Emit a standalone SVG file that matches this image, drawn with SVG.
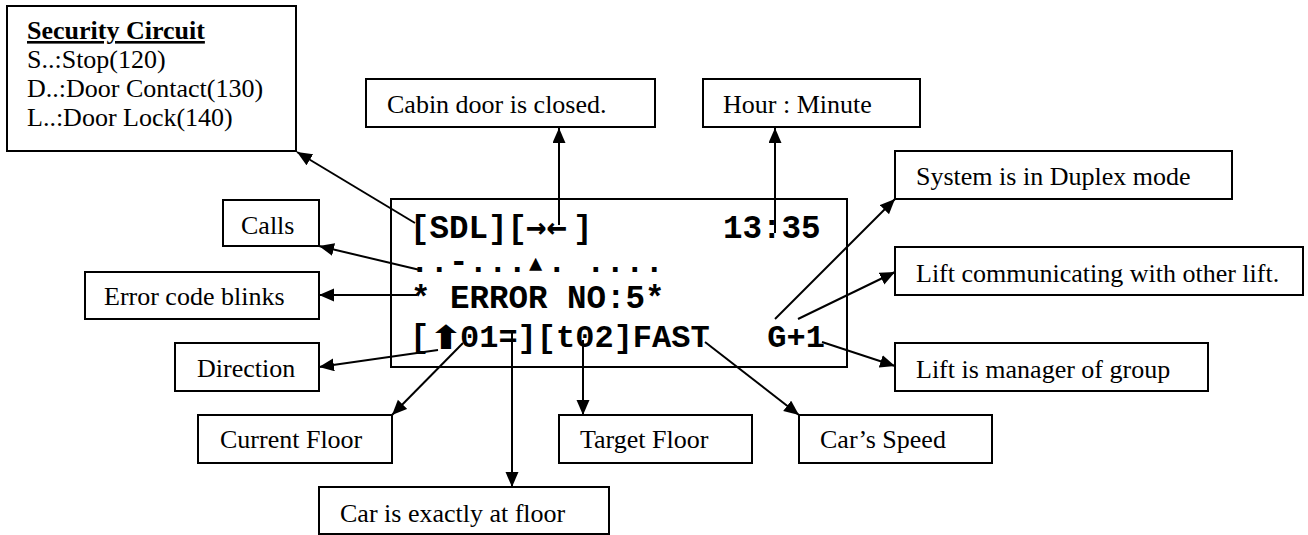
<svg xmlns="http://www.w3.org/2000/svg" width="1308" height="535" viewBox="0 0 1308 535">
<defs>
<marker id="ah" markerUnits="userSpaceOnUse" markerWidth="16" markerHeight="14" refX="15" refY="6.5" orient="auto">
<path d="M0,0 L15,6.5 L0,13 Z" fill="#000"/>
</marker>
<style>
.box{fill:#fff;stroke:#000;stroke-width:2}
.lbl{font-family:"Liberation Serif","Times New Roman",serif;font-size:26px;fill:#000}
.mono{font-family:"Liberation Mono","Courier New",monospace;font-weight:bold;font-size:32.5px;fill:#000;white-space:pre}
.sym{font-family:"DejaVu Sans Mono","DejaVu Sans",monospace;fill:#000}
.con{stroke:#000;stroke-width:2;fill:none;marker-end:url(#ah)}
</style>
</defs>
<rect width="1308" height="535" fill="#fff"/>
<g id="display">
<rect class="box" x="391" y="199" width="456" height="168"/>
<text class="mono" x="410" y="238">[SDL][</text>
<text class="sym" x="526" y="238" style="font-size:34px;font-weight:bold">→←</text>
<text class="mono" x="573" y="238">]</text>
<text class="mono" x="723" y="238">13:35</text>
<text class="mono" x="410" y="272">..-...</text>
<text class="sym" x="529" y="270" style="font-size:22px">▲</text>
<text class="mono" x="547" y="272">. ....</text>
<text class="mono" x="411" y="308">* ERROR NO:5*</text>
<text class="mono" x="410" y="347">[</text>
<text transform="translate(446,349) scale(1.35,1.1)" text-anchor="middle" style="font-family:'DejaVu Sans',sans-serif;font-size:30px;font-weight:bold;fill:#000">⬆</text>
<text class="mono" x="460" y="347" style="font-size:32px">01=][t02]FAST   G+1</text>
</g>
<g id="security">
<rect class="box" x="7" y="6" width="289" height="145"/>
<text class="lbl" x="27" y="39" font-weight="bold" text-decoration="underline">Security Circuit</text>
<text class="lbl" x="27" y="68">S..:Stop(120)</text>
<text class="lbl" x="27" y="97">D..:Door Contact(130)</text>
<text class="lbl" x="27" y="126">L..:Door Lock(140)</text>
</g>
<g id="cabin"><rect class="box" x="366" y="79" width="289" height="48"/><text class="lbl" x="387" y="113">Cabin door is closed.</text></g>
<g id="hour"><rect class="box" x="703" y="79" width="217" height="48"/><text class="lbl" x="723" y="113">Hour : Minute</text></g>
<g id="calls"><rect class="box" x="223" y="200" width="96" height="46"/><text class="lbl" x="241" y="234">Calls</text></g>
<g id="error"><rect class="box" x="85" y="272" width="234" height="47"/><text class="lbl" x="104" y="305">Error code blinks</text></g>
<g id="direction"><rect class="box" x="175" y="343" width="144" height="48"/><text class="lbl" x="197" y="377">Direction</text></g>
<g id="current"><rect class="box" x="198" y="415" width="194" height="48"/><text class="lbl" x="220" y="448">Current Floor</text></g>
<g id="exact"><rect class="box" x="319" y="487" width="290" height="47"/><text class="lbl" x="340" y="522">Car is exactly at floor</text></g>
<g id="target"><rect class="box" x="559" y="415" width="193" height="48"/><text class="lbl" x="580" y="448">Target Floor</text></g>
<g id="speed"><rect class="box" x="799" y="415" width="193" height="48"/><text class="lbl" x="820" y="448">Car’s Speed</text></g>
<g id="duplex"><rect class="box" x="895" y="151" width="337" height="48"/><text class="lbl" x="916" y="185">System is in Duplex mode</text></g>
<g id="comm"><rect class="box" x="895" y="247" width="408" height="48"/><text class="lbl" x="916" y="282">Lift communicating with other lift.</text></g>
<g id="manager"><rect class="box" x="895" y="343" width="313" height="48"/><text class="lbl" x="916" y="378">Lift is manager of group</text></g>
<g id="connectors">
<path class="con" d="M415,223 L297,152"/>
<path class="con" d="M559,225 L559,128"/>
<path class="con" d="M775,233 L775,128"/>
<path class="con" d="M775,319 L895,199"/>
<path class="con" d="M798,319 L895,272"/>
<path class="con" d="M822,342 L895,366"/>
<path class="con" d="M705,342 L799,415"/>
<path class="con" d="M583,340 L583,415"/>
<path class="con" d="M512,333 L512,487"/>
<path class="con" d="M463,343 L392,415"/>
<path class="con" d="M438,350 L319,367"/>
<path class="con" d="M417,295 L319,295"/>
<path class="con" d="M420,270 L319,246"/>
</g>
</svg>
